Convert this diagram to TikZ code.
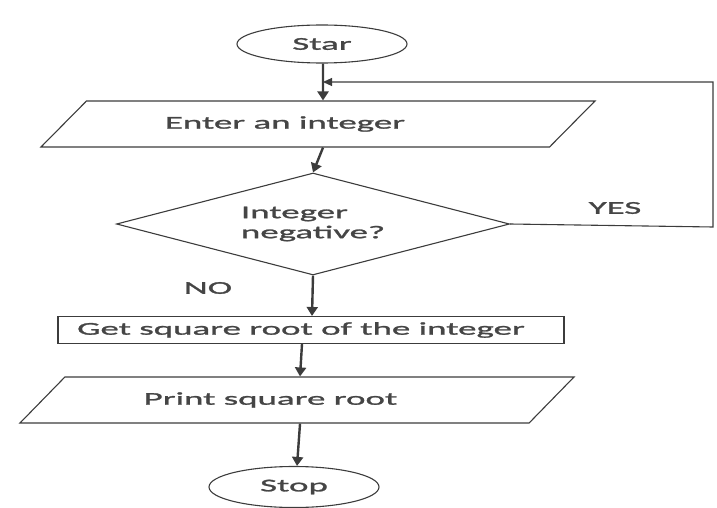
\documentclass[tikz,border=0pt]{standalone}
\usepackage{fontspec}
\setmainfont[FakeStretch=2.05,FakeBold=1.4]{Carlito}
\usetikzlibrary{shapes.geometric,arrows.meta}
\definecolor{ink}{HTML}{3C3C3C}
\definecolor{txt}{HTML}{454545}
\tikzset{
  every node/.style={font=\fontsize{18}{21}\selectfont,text=txt},
  term/.style={ellipse,draw=ink,line width=1.1pt,minimum width=170pt,inner sep=0pt},
  io/.style={trapezium,trapezium left angle=18.8,trapezium right angle=161.2,
    trapezium stretches body,draw=ink,line width=1.1pt,minimum width=554pt,
    minimum height=46pt,inner sep=0pt},
  decision/.style={diamond,draw=ink,line width=1.1pt,aspect=3.85,minimum width=393pt,
    minimum height=102pt,inner sep=0pt},
  process/.style={rectangle,draw=ink,line width=1.1pt,minimum width=506pt,
    minimum height=27pt,inner sep=0pt},
  lbl/.style={inner sep=0pt},
  flow/.style={draw=ink,line width=2.4pt,-{Triangle[length=9pt,width=11pt]}},
  loop/.style={draw=ink,line width=1.1pt,-{Triangle[length=9pt,width=8pt]}}
}
\begin{document}
\begin{tikzpicture}[x=1pt,y=-1pt]
\useasboundingbox (0,0) rectangle (717,508);
\node[term,minimum height=38pt] (start) at (322,44) {Star};
\node[io] (enter) at (318,124) {Enter an integer\hspace*{66pt}};
\node[decision] (neg) at (313,224) {\begin{tabular}{@{}l@{}}Integer\\[-1pt]negative?\end{tabular}};
\node[process] (root) at (311,330) {Get square root of the integer\hspace*{20pt}};
\node[io] (print) at (297,400) {Print square root\hspace*{53pt}};
\node[term,minimum height=41pt] (stop) at (294,487) {Stop};
\node[lbl] (yes) at (615,208) {YES};
\node[lbl] (no) at (208,288) {NO};
\coordinate (rb) at (713,227);
\coordinate (rt) at (713,82);
\coordinate (join) at (323,82);
\path
  ([xshift=1pt]start.south) edge[flow] ([xshift=5pt]enter.north)
  ([xshift=5pt]enter.south) edge[flow] (neg.north)
  (neg.south) edge[flow] ([xshift=1pt]root.north)
  ([xshift=-9pt]root.south) edge[flow] ([xshift=3pt]print.north)
  ([xshift=3pt]print.south) edge[flow] ([xshift=3pt]stop.north)
;
\draw[loop] (neg.east) -- (rb) -- (rt) -- (join);
\end{tikzpicture}
\end{document}
